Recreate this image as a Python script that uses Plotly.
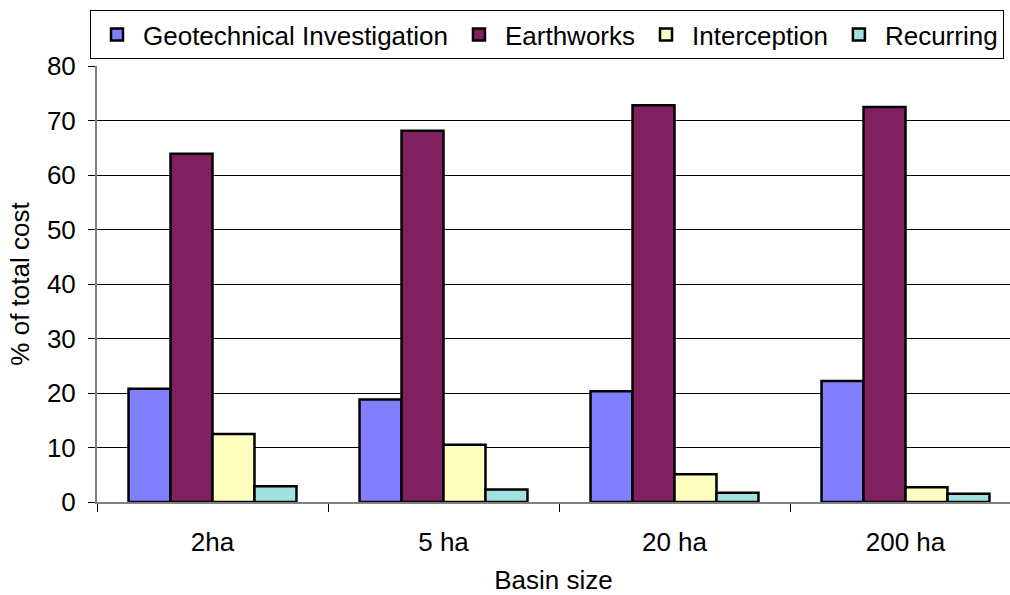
import plotly.graph_objects as go

# Cost share of each component by basin size (% of total cost)
basin_sizes = ["2ha", "5 ha", "20 ha", "200 ha"]
geotechnical = [20.8, 18.8, 20.3, 22.2]
earthworks = [63.9, 68.1, 72.8, 72.5]
interception = [12.5, 10.5, 5.1, 2.7]
recurring = [2.9, 2.3, 1.7, 1.5]

series = [
    ("Geotechnical Investigation", geotechnical, "#8080FF"),
    ("Earthworks", earthworks, "#802060"),
    ("Interception", interception, "#FFFFC0"),
    ("Recurring", recurring, "#A0E0E0"),
]

FONT = "Liberation Sans, Arial, sans-serif"

fig = go.Figure()
for name, values, colour in series:
    fig.add_trace(go.Bar(
        x=basin_sizes,
        y=values,
        name=name,
        marker=dict(color=colour, line=dict(color="black", width=2.5)),
    ))

W, H = 1010, 595
ml, mr, mt, mb = 97, 0, 66, 93
plot_w = W - ml - mr
cat_px = 231  # horizontal space per category

fig.update_layout(
    width=W,
    height=H,
    margin=dict(l=ml, r=mr, t=mt, b=mb, pad=0, autoexpand=False),
    paper_bgcolor="white",
    plot_bgcolor="white",
    font=dict(family=FONT, size=26, color="black"),
    barmode="group",
    bargap=0.273,
    bargroupgap=0,
    showlegend=True,
    legend=dict(
        orientation="h",
        x=(90 - ml) / plot_w,
        xanchor="left",
        y=(H - mb - 10) / (H - mt - mb),
        yanchor="top",
        bgcolor="white",
        bordercolor="black",
        borderwidth=1,
        font=dict(family=FONT, size=26, color="black"),
        itemwidth=42,
        tracegroupgap=0,
    ),
    xaxis=dict(
        type="category",
        range=[-0.5, plot_w / cat_px - 0.5],
        automargin=True,
        showgrid=False,
        showline=True,
        linecolor="#808080",
        linewidth=2,
        ticks="outside",
        tickson="boundaries",
        ticklen=8,
        tickcolor="black",
        tickwidth=1,
        tickfont=dict(family=FONT, size=26),
        ticklabelstandoff=16,
        title=dict(text="Basin size", font=dict(family=FONT, size=26), standoff=28),
        zeroline=False,
    ),
    yaxis=dict(
        range=[0, 80],
        dtick=10,
        tick0=0,
        automargin=False,
        showgrid=True,
        gridcolor="black",
        gridwidth=1,
        showline=True,
        linecolor="#808080",
        linewidth=2,
        ticks="outside",
        ticklen=7,
        tickcolor="black",
        tickwidth=1,
        tickfont=dict(family=FONT, size=26),
        ticklabelstandoff=7,
        title=dict(text="% of total cost", font=dict(family=FONT, size=26), standoff=10),
        zeroline=False,
    ),
)

fig.write_html("out.html")
